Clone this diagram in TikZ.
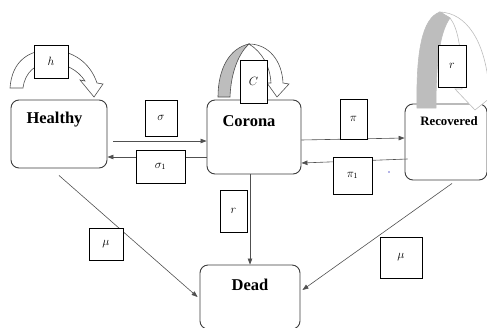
\documentclass[tikz,border=0pt]{standalone}
\usepackage{fontspec}
\setmainfont{Liberation Serif}
\usetikzlibrary{arrows.meta}

\definecolor{boxgray}{HTML}{3C3C3C}
\definecolor{linegray}{HTML}{505050}
\definecolor{loopgray}{HTML}{BDBDBD}
\definecolor{paleline}{HTML}{BEBEBE}
\definecolor{dotblue}{HTML}{6A6AD0}

\tikzset{
  state/.style={draw=boxgray, line width=0.9pt, rounded corners=8pt, inner sep=0pt},
  title/.style={anchor=center, font=\fontsize{16.5}{19}\selectfont\bfseries},
  rate/.style={draw=black, fill=white, line width=0.7pt, inner sep=0pt, font=\fontsize{12}{14}\selectfont},
  flow/.style={draw=linegray, line width=0.6pt, -{Triangle[length=6pt,width=4.5pt]}},
  loopline/.style={draw=linegray, line width=0.6pt, fill=white},
}

\begin{document}
\begin{tikzpicture}[x=1pt,y=-1pt]
  \useasboundingbox (0,0) rectangle (487,327);

  % compartments
  \node (healthy) [state, minimum width=96pt, minimum height=68pt,
    label={[title,xshift=-4.5pt,yshift=-20pt]north:Healthy}] at (59,134) {};
  \node (corona) [state, minimum width=94pt, minimum height=74pt,
    label={[title,xshift=-5pt,yshift=-22pt]north:Corona}] at (254,137) {};
  \node (recovered) [state, minimum width=82pt, minimum height=76pt,
    label={[title,font=\fontsize{12.8}{15}\selectfont\bfseries,xshift=3pt,yshift=-18pt]north:Recovered}] at (446,142) {};
  \node (dead) [state, minimum width=100pt, minimum height=64pt,
    label={[title,yshift=-20pt]north:Dead}] at (250,297) {};

  % self loops
  \filldraw[loopline] (10,88) .. controls (12,60) and (30,50) .. (50,50)
    .. controls (72,50) and (90,62) .. (97,83) -- (103,84) -- (94,97) -- (80,80) -- (85,81)
    .. controls (78,70) and (65,63) .. (50,63) .. controls (36,63) and (25,72) .. (23,88) -- cycle;
  \filldraw[loopline] (249,44) .. controls (268,44) and (282,60) .. (283,83) -- (289,84)
    -- (277,97) -- (267,83) -- (271,83) .. controls (270,66) and (262,52) .. (249,44) -- cycle;
  \filldraw[loopline, fill=loopgray] (218,97) .. controls (218,68) and (230,48) .. (249,44)
    .. controls (240,52) and (231,70) .. (230,97) -- cycle;
  \filldraw[loopline, draw=paleline] (440,12) .. controls (466,13) and (485,40) .. (489,88)
    -- (500,90) -- (475,110) -- (455,89) -- (462,89) .. controls (462,50) and (458,28) .. (450,18) -- cycle;
  \filldraw[loopline, draw=paleline, fill=loopgray] (417,108) .. controls (416,52) and (422,18) .. (440,12)
    -- (450,18) .. controls (440,32) and (436,60) .. (436,108) -- cycle;

  % transitions
  \draw[flow] ([xshift=6pt,yshift=-7pt]healthy.east) -- ([yshift=-4pt]corona.west);
  \draw[flow] ([yshift=-20pt]corona.west) -- ([yshift=-23pt]healthy.east);
  \draw[flow] ([yshift=-3pt]corona.east) -- ([yshift=4pt]recovered.west);
  \draw[flow] ([xshift=3pt,yshift=-17pt]recovered.west) -- ([yshift=-26pt]corona.east);
  \draw[flow] (dead.north |- corona.south) -- (dead.north);
  \draw[flow] ([yshift=-7pt]healthy.south) -- ([xshift=-2pt]dead.west);
  \draw[flow] ([xshift=6pt,yshift=-3pt]recovered.south) -- ([xshift=2pt,yshift=7pt]dead.east);

  % rates
  \node (h) [rate, minimum width=34pt, minimum height=33pt] at (51,61.5) {\(h\)};
  \node (c) [rate, minimum width=27pt, minimum height=43pt] at (253.5,81.5) {\(C\)};
  \node (rr) [rate, minimum width=28pt, minimum height=42pt] at (452,66) {\(r\)};
  \node (sigma) [rate, minimum width=32pt, minimum height=36pt] at (161,118) {\(\sigma\)};
  \node (sigmaone) [rate, minimum width=49pt, minimum height=33pt] at (160.5,166.5) {\(\sigma_1\)};
  \node (pi) [rate, minimum width=27pt, minimum height=40pt] at (353.5,119) {\(\pi\)};
  \node (pione) [rate, minimum width=39pt, minimum height=37pt] at (352.5,175.5) {\(\pi_1\)};
  \node (rd) [rate, minimum width=27pt, minimum height=42pt] at (233.5,211) {\(r\)};
  \node (muh) [rate, minimum width=34pt, minimum height=32pt] at (106,244) {\(\mu\)};
  \node (mur) [rate, minimum width=42pt, minimum height=41pt] at (401,257.5) {\(\mu\)};
  \node (dot) [circle, fill=dotblue, inner sep=0pt, minimum size=1.6pt] at (389,172) {};
\end{tikzpicture}
\end{document}
